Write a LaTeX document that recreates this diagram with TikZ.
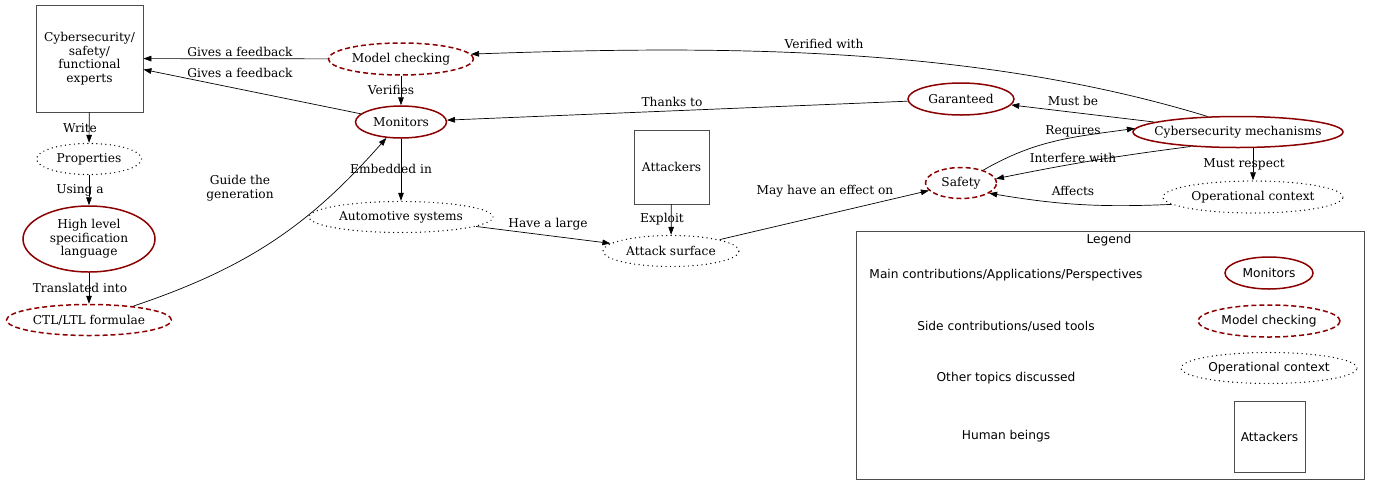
\documentclass[tikz,border=0pt]{standalone}
\usepackage{fontspec}
\setmainfont{DejaVu Serif}
\setsansfont{DejaVu Sans}
\usepackage{tikz}
\usetikzlibrary{shapes.geometric,arrows.meta}

\definecolor{contrib}{RGB}{139,0,0}

\begin{document}
\begin{tikzpicture}[x=1pt, y=-1pt,
        font=\fontsize{12.2}{13.5}\selectfont,
        dims/.style 2 args={minimum width=#1pt, minimum height=#2pt},
        main/.style={ellipse, draw=contrib, line width=1.5pt, inner sep=0pt, inner xsep=-40pt, align=center},
        side/.style={main, dash pattern=on 5pt off 3pt},
        other/.style={ellipse, draw=black, line width=1.4pt, line cap=round, dash pattern=on 0pt off 4.5pt, inner sep=0pt, inner xsep=-40pt, align=center},
        human/.style={rectangle, draw=black!70, line width=0.8pt, inner sep=0pt, align=center},
        flow/.style={-{Triangle[length=8pt,width=5.6pt]}, line width=0.7pt},
        lbl/.style={inner sep=0pt, align=center},
        key/.style={font=\sffamily\fontsize{12.2}{13.5}\selectfont}]
            \useasboundingbox (0,0) rectangle (1380,483);

            % Human beings
            \node[human, dims={107}{107}] (experts) at (89.5,58.5) {Cybersecurity/\\safety/\\functional\\experts};
            \node[human, dims={75}{74}] (attackers) at (671.5,167) {Attackers};

            % Main contributions
            \node[main, dims={132}{66}] (spec) at (89,239) {High level\\specification\\language};
            \node[main, dims={91}{32}] (monitors) at (401,122) {Monitors};
            \node[main, dims={106}{32}] (garanteed) at (961,99) {Garanteed};
            \node[main, dims={210}{31}] (mechanisms) at (1238,132) {Cybersecurity mechanisms};

            % Side contributions
            \node[side, dims={165}{31}] (formulae) at (89,320) {CTL/LTL formulae};
            \node[side, dims={145}{32}] (checking) at (401,59) {Model checking};
            \node[side, dims={71}{31}] (safety) at (961,183) {Safety};

            % Other topics
            \node[other, dims={105}{31}] (properties) at (89,159) {Properties};
            \node[other, dims={184}{31}] (automotive) at (401,217) {Automotive systems};
            \node[other, dims={136}{31}] (surface) at (671,251) {Attack surface};
            \node[other, dims={180}{32}] (context) at (1253,197) {Operational context};

            % Connect the topics
            \draw[flow] (checking) -- (experts) node[lbl] at (240,52) {Gives a feedback};
            \draw[flow] (monitors) -- (experts) node[lbl] at (240,73) {Gives a feedback};
            \draw[flow] (checking) -- (monitors) node[lbl] at (391,90) {Verifies};
            \draw[flow] (experts) -- (properties) node[lbl] at (80,128) {Write};
            \draw[flow] (properties) -- (spec) node[lbl] at (80,190) {Using a};
            \draw[flow] (spec) -- (formulae) node[lbl] at (80,288) {Translated into};
            \draw[flow] (formulae) to[bend right=15] (monitors) node[lbl] at (240,188) {Guide the\\generation};
            \draw[flow] (monitors) -- (automotive) node[lbl] at (391,169) {Embedded in};
            \draw[flow] (automotive) -- (surface) node[lbl] at (548,224) {Have a large};
            \draw[flow] (attackers) -- (surface) node[lbl] at (662,219) {Exploit};
            \draw[flow] (surface) -- (safety) node[lbl] at (825,191) {May have an effect on};
            \draw[flow] (garanteed) -- (monitors) node[lbl] at (672,102) {Thanks to};
            \draw[flow] (mechanisms.153) to[out=163,in=2,looseness=0.85] (checking.4) node[lbl] at (824,44) {Verified with};
            \draw[flow] (mechanisms) -- (garanteed) node[lbl] at (1073,101) {Must be};
            \draw[flow] (safety) to[out=30,in=188] (mechanisms.178) node[lbl] at (1073,131) {Requires};
            \draw[flow] (mechanisms.197) to[bend right=2] (safety.7) node[lbl] at (1073,158) {Interfere with};
            \draw[flow] (context.north |- mechanisms.south) -- (context) node[lbl] at (1244,164) {Must respect};
            \draw[flow] (context) to[bend left=6] (safety.-20) node[lbl] at (1073,191) {Affects};

            % Legend
            \node[draw=black!70, line width=0.8pt, dims={508}{248}] (legend) at (1110,355) {};
            \node[lbl, key] (legend-title) at (1109,240) {Legend};
            \node[lbl, key] (key-main) at (1006,275) {Main contributions/Applications/Perspectives};
            \node[lbl, key] (key-side) at (1006,326) {Side contributions/used tools};
            \node[lbl, key] (key-other) at (1006,378) {Other topics discussed};
            \node[lbl, key] (key-human) at (1006,436) {Human beings};
            \node[main, key, dims={88}{32}] (key-monitors) at (1269,273) {Monitors};
            \node[side, key, dims={142}{32}] (key-checking) at (1269,321) {Model checking};
            \node[other, key, dims={176}{31}] (key-context) at (1269,368) {Operational context};
            \node[human, key, dims={71}{71}] (key-attackers) at (1269.5,436.5) {Attackers};
        \end{tikzpicture}
\end{document}
